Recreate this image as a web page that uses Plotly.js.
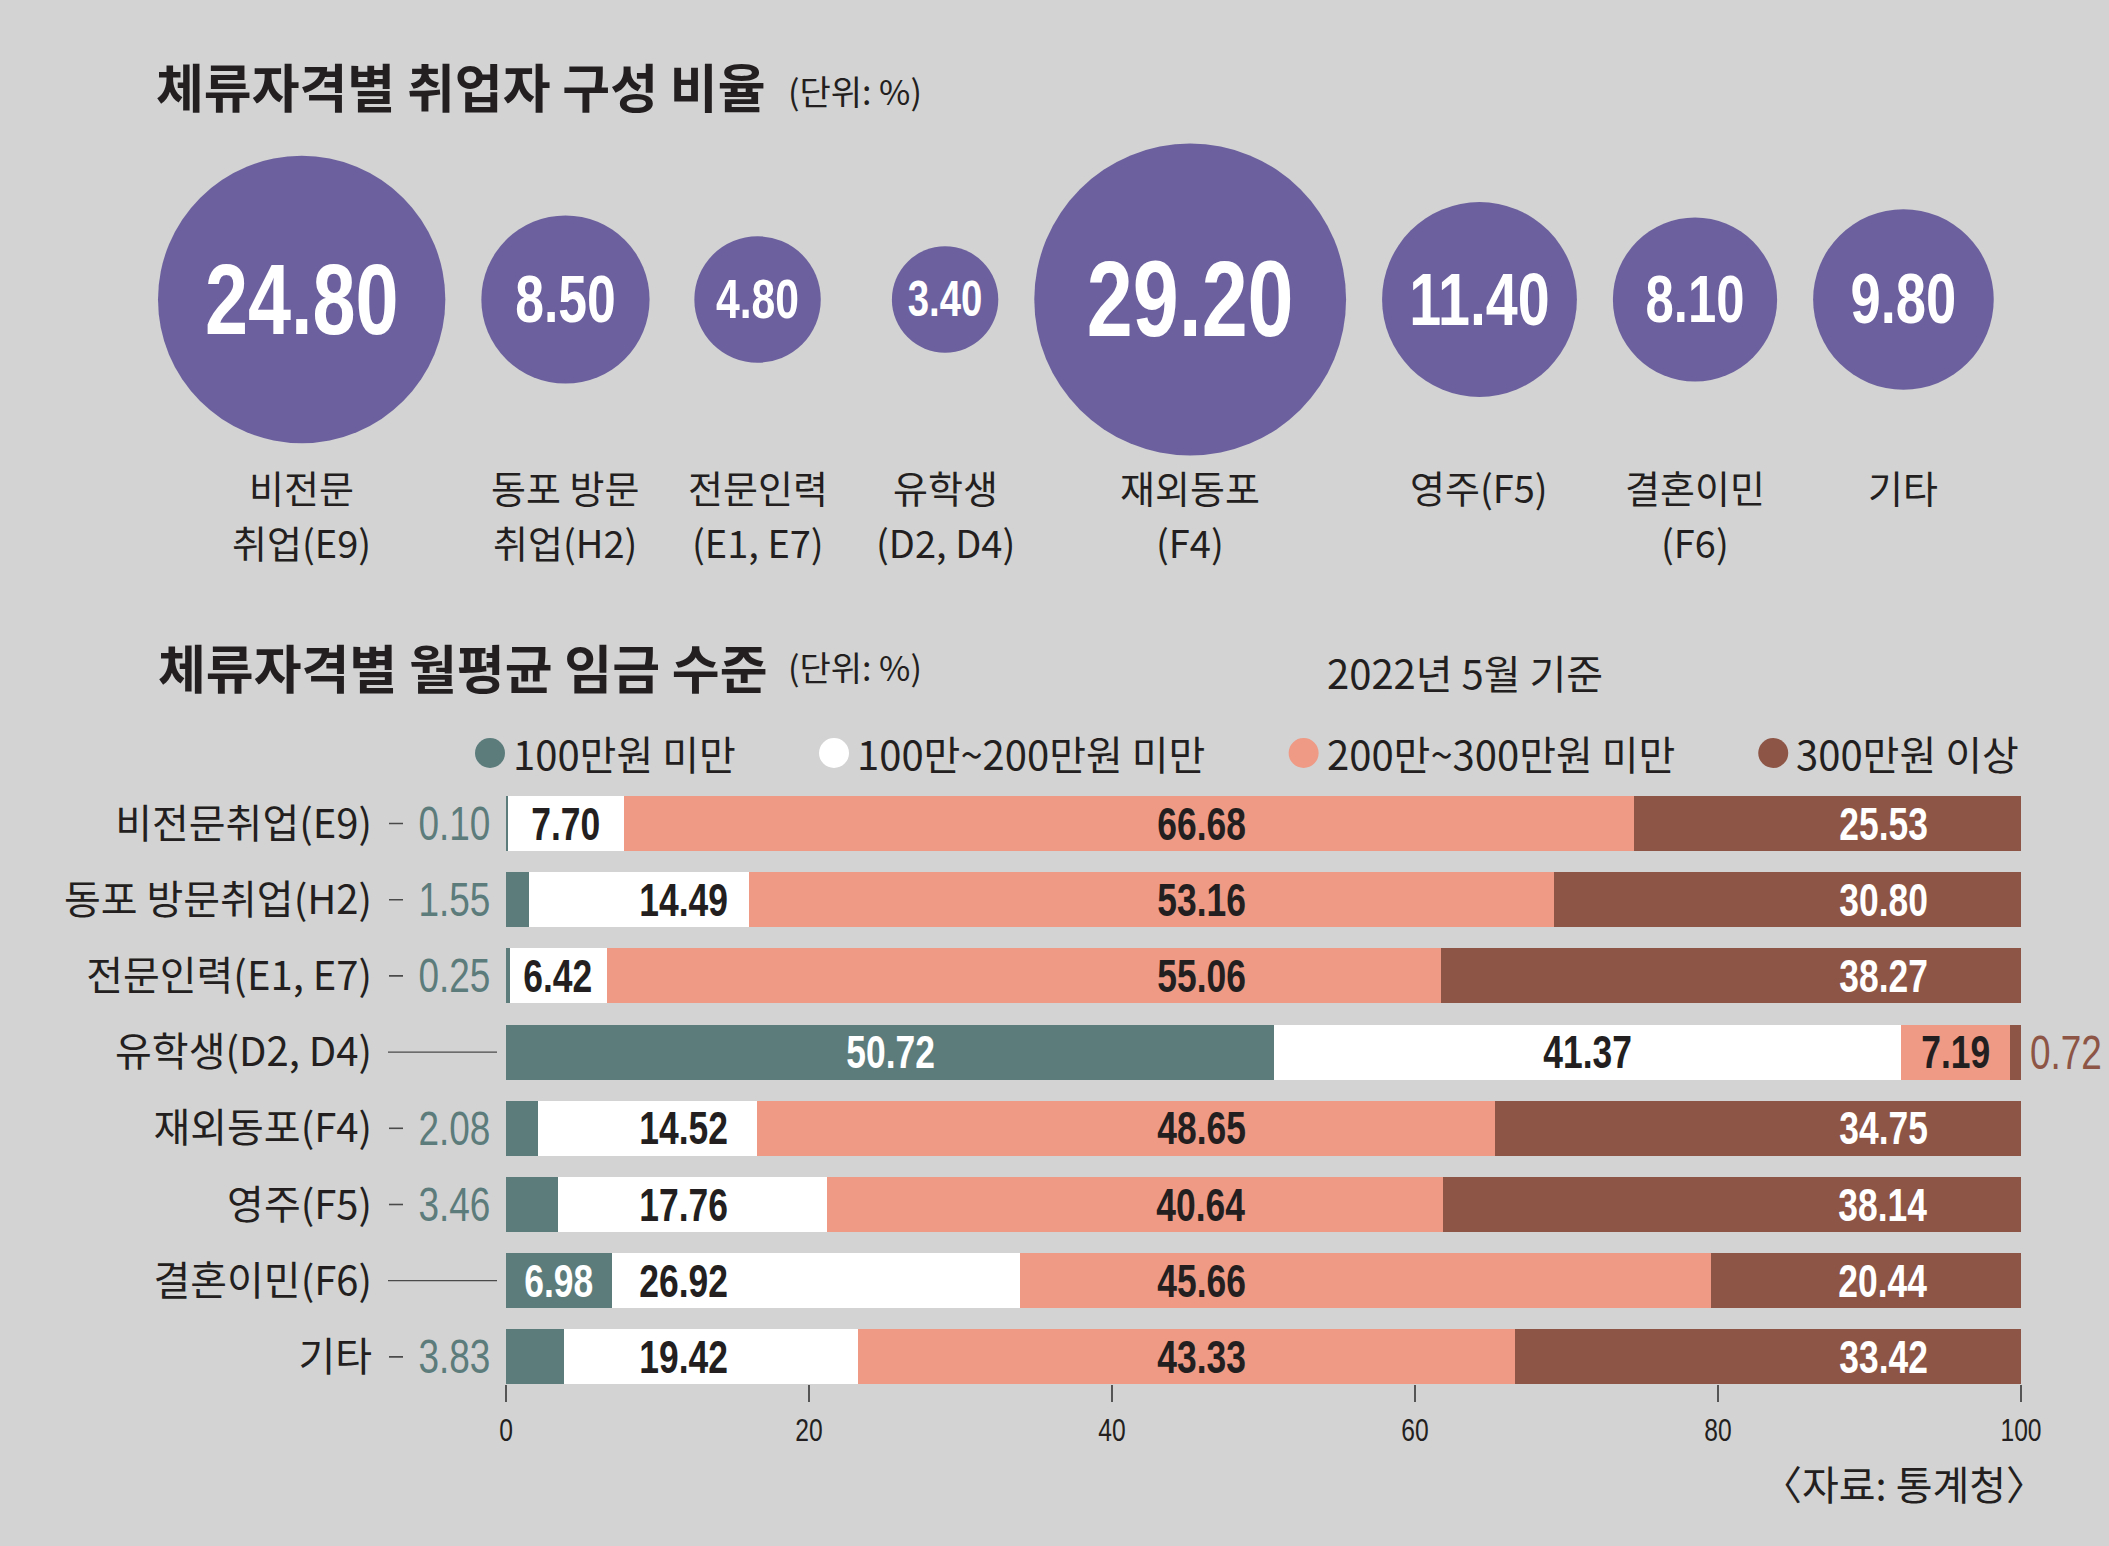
<!DOCTYPE html>
<html>
<head>
<meta charset="utf-8">
<script src="https://cdn.plot.ly/plotly-3.0.1.min.js"></script>
<style>
  html, body { margin: 0; padding: 0; background: #d3d3d3; }
  #chart { width: 2109px; height: 1546px; }
</style>
</head>
<body>
<div id="chart"></div>
<script>
// ---------------- data ----------------
const shareTitle = '체류자격별 취업자 구성 비율';
const wageTitle = '체류자격별 월평균 임금 수준';
const unitLabel = '(단위: %)';
const baseDate = '2022년 5월 기준';
const sourceNote = '〈자료: 통계청〉';

const shareCategories = ['비전문<br>취업(E9)', '동포 방문<br>취업(H2)', '전문인력<br>(E1, E7)', '유학생<br>(D2, D4)',
                         '재외동포<br>(F4)', '영주(F5)', '결혼이민<br>(F6)', '기타'];
const shareValues = [24.80, 8.50, 4.80, 3.40, 29.20, 11.40, 8.10, 9.80];

const wageCategories = ['비전문취업(E9)', '동포 방문취업(H2)', '전문인력(E1, E7)', '유학생(D2, D4)',
                        '재외동포(F4)', '영주(F5)', '결혼이민(F6)', '기타'];
const wageSeriesNames = ['100만원 미만', '100만~200만원 미만', '200만~300만원 미만', '300만원 이상'];
const under100     = [0.10, 1.55, 0.25, 50.72, 2.08, 3.46, 6.98, 3.83];
const from100to200 = [7.70, 14.49, 6.42, 41.37, 14.52, 17.76, 26.92, 19.42];
const from200to300 = [66.68, 53.16, 55.06, 7.19, 48.65, 40.64, 45.66, 43.33];
const over300      = [25.53, 30.80, 38.27, 0.72, 34.75, 38.14, 20.44, 33.42];
const wageTicks = [0, 20, 40, 60, 80, 100];

// ---------------- style / layout constants ----------------
const W = 2109, H = 1546;
const BG = '#d3d3d3', INK = '#231f20', PURPLE = '#6c619e';
const SERIES_COLORS = ['#5c7c7c', '#ffffff', '#ee9a85', '#8d5545'];
const LABEL_COLORS = ['#ffffff', INK, INK, '#ffffff'];
const KR = "'Noto Sans CJK KR', 'Noto Sans', sans-serif";
const NARROW = "'Liberation Sans', Arial, sans-serif";   // horizontally condensed after drawing
const NARROW_SCALE = 0.77;
const BUBBLE_TEXT_DROP = 0.09;   // em, optical vertical centring of numbers in bubbles

const ctx = document.createElement('canvas').getContext('2d');
function textWidth(str, size, family, weight) {
  ctx.font = (weight || 'normal') + ' ' + size + 'px ' + family;
  return ctx.measureText(str).width;
}
const px = x => x / W;
const py = y => 1 - y / H;

// bubbles
const BUBBLE_K = 57.7;                      // diameter in px per sqrt(value)
const sizeref = 2 / (BUBBLE_K * BUBBLE_K);
const radius = v => Math.sqrt(v / (2 * sizeref));
const BUBBLE_LEFT = 158, BUBBLE_GAP = 36, LABEL_GAP = 48, BUBBLE_CY = 299.5;
const LABEL_LINE1 = 486, LABEL_STEP = 55, LABEL_FONT = 38;

const radii = shareValues.map(radius);
const halfLab = shareCategories.map(c => Math.max(...c.split('<br>').map(s => textWidth(s, LABEL_FONT, KR))) / 2);
const bubbleX = [];
radii.forEach((r, i) => {
  if (i === 0) bubbleX.push(BUBBLE_LEFT + r);
  else bubbleX.push(bubbleX[i - 1] + Math.max(radii[i - 1] + r + BUBBLE_GAP, halfLab[i - 1] + halfLab[i] + LABEL_GAP));
});

// bars
const BAR_ZERO_PX = 506, BAR_FULL_PX = 2021;
const ROW0_CY = 823.5, ROW_STEP = 76.2, BAR_THICK = 0.72, PLOT_TOP_PX = 770;
const ppu = (BAR_FULL_PX - BAR_ZERO_PX) / 100;
const xRange2 = [-BAR_ZERO_PX / ppu, (W - BAR_ZERO_PX) / ppu];
const nRows = wageCategories.length;
const yBottomIdx = (nRows - 1) + BAR_THICK / 2;
const yTopIdx = (PLOT_TOP_PX - ROW0_CY) / ROW_STEP;
const yBottomPx = ROW0_CY + yBottomIdx * ROW_STEP;

const LABEL_COLS = [null, 11.7, 45.9, 90.9];   // preferred label columns per series (axis units)
const BAR_LABEL_SIZE = 46, SIDE_LABEL_SIZE = 48, PAD = 0.3;

const wageSeries = [under100, from100to200, from200to300, over300];

const traces = [];
// bubble trace
traces.push({
  type: 'scatter', mode: 'markers+text', xaxis: 'x', yaxis: 'y',
  x: bubbleX, y: shareValues.map(() => 0),
  text: shareValues.map(v => v.toFixed(2)),
  textposition: 'middle center',
  textfont: { family: NARROW, size: radii.map(r => 20 + 0.56 * r), color: '#ffffff', weight: 'bold' },
  marker: { size: shareValues, sizemode: 'area', sizeref: sizeref, color: PURPLE, line: { width: 0 }, opacity: 1 },
  cliponaxis: false, hoverinfo: 'skip', showlegend: false
});
// stacked bars
wageSeries.forEach((vals, s) => {
  traces.push({
    type: 'bar', orientation: 'h', xaxis: 'x2', yaxis: 'y2',
    y: wageCategories, x: vals, name: wageSeriesNames[s],
    marker: { color: SERIES_COLORS[s], line: { width: 0 } },
    hoverinfo: 'skip', showlegend: false
  });
});

const annotations = [];
const shapes = [];

// titles and notes
annotations.push({ xref: 'paper', yref: 'paper', x: px(156), y: py(666), xanchor: 'left', yanchor: 'middle',
  text: '<b>' + wageTitle + '</b>', showarrow: false, font: { family: KR, size: 52, color: INK } });
[90, 666].forEach(y => {
  annotations.push({ xref: 'paper', yref: 'paper', x: px(786), y: py(y), xanchor: 'left', yanchor: 'middle',
    text: unitLabel, showarrow: false, font: { family: KR, size: 34, color: INK } });
});
annotations.push({ xref: 'paper', yref: 'paper', x: px(1325), y: py(672), xanchor: 'left', yanchor: 'middle',
  text: baseDate, showarrow: false, font: { family: KR, size: 40, color: INK } });
annotations.push({ xref: 'paper', yref: 'paper', x: px(2048), y: py(1483), xanchor: 'right', yanchor: 'middle',
  text: sourceNote, showarrow: false, font: { family: KR, size: 40, color: INK } });

// bubble labels (one annotation per line)
shareCategories.forEach((c, i) => {
  c.split('<br>').forEach((line, k) => {
    annotations.push({ xref: 'x', yref: 'y', x: bubbleX[i], y: BUBBLE_CY - (LABEL_LINE1 + k * LABEL_STEP),
      xanchor: 'center', yanchor: 'middle', align: 'center', text: line, showarrow: false,
      font: { family: KR, size: LABEL_FONT, color: INK } });
  });
});

// bar labels
wageCategories.forEach((cat, i) => {
  let start = 0;
  let tealOutside = false;
  wageSeries.forEach((vals, s) => {
    const v = vals[i], a = start, b = start + v;
    start = b;
    const txt = v.toFixed(2);
    const w = textWidth(txt, BAR_LABEL_SIZE, NARROW, 'bold') * NARROW_SCALE / ppu;
    const col = LABEL_COLS[s];
    const base = { xref: 'x2', yref: 'y2', y: cat, yanchor: 'middle', showarrow: false, text: txt };
    const inside = { xanchor: 'center', align: 'center',
      font: { family: NARROW, size: BAR_LABEL_SIZE, color: LABEL_COLORS[s], weight: 'bold' } };
    if (col !== null && col - w / 2 >= a + PAD && col + w / 2 <= b - PAD) {
      annotations.push(Object.assign(base, inside, { x: col }));
    } else if (w + 2 * PAD <= v || (s > 0 && s < wageSeries.length - 1)) {
      annotations.push(Object.assign(base, inside, { x: (a + b) / 2 }));
    } else if (s === 0) {
      tealOutside = true;
      annotations.push(Object.assign(base, { x: 0, xanchor: 'right', align: 'right', xshift: -14,
        font: { family: NARROW, size: SIDE_LABEL_SIZE, color: SERIES_COLORS[s] } }));
    } else {
      annotations.push(Object.assign(base, { x: b, xanchor: 'left', align: 'left', xshift: 7,
        font: { family: NARROW, size: SIDE_LABEL_SIZE, color: SERIES_COLORS[s] } }));
    }
  });
  shapes.push({
    type: 'line', xref: 'x2', yref: 'y2', xsizemode: 'pixel', xanchor: 0,
    x0: tealOutside ? -117 : -118, x1: tealOutside ? -103 : -9, y0: cat, y1: cat,
    line: { color: '#4a4a4a', width: tealOutside ? 1.6 : 1.2 }
  });
});

// custom legend
const LEG_CY = 753, LEG_LEFT = 475, LEG_RIGHT = 2017, LEG_DOT = 30, LEG_TEXT_GAP = 6, LEG_SIZE = 40;
const legW = wageSeriesNames.map(n => textWidth(n, LEG_SIZE, KR));
const legTotal = legW.reduce((acc, w) => acc + LEG_DOT + LEG_TEXT_GAP + w, 0);
const legGap = (LEG_RIGHT - LEG_LEFT - legTotal) / (wageSeriesNames.length - 1);
let lx = LEG_LEFT;
wageSeriesNames.forEach((n, s) => {
  shapes.push({ type: 'circle', xref: 'paper', yref: 'paper',
    x0: px(lx), x1: px(lx + LEG_DOT), y0: py(LEG_CY + LEG_DOT / 2), y1: py(LEG_CY - LEG_DOT / 2),
    fillcolor: SERIES_COLORS[s], line: { width: 0 } });
  annotations.push({ xref: 'paper', yref: 'paper', x: px(lx + LEG_DOT + LEG_TEXT_GAP), y: py(LEG_CY),
    xanchor: 'left', yanchor: 'middle', text: n, showarrow: false, font: { family: KR, size: LEG_SIZE, color: INK } });
  lx += LEG_DOT + LEG_TEXT_GAP + legW[s] + legGap;
});

const layout = {
  width: W, height: H,
  margin: { l: 0, r: 0, t: 0, b: 0, pad: 0 },
  paper_bgcolor: BG, plot_bgcolor: 'rgba(0,0,0,0)',
  font: { family: KR, color: INK },
  title: { text: '<b>' + shareTitle + '</b>', xref: 'paper', yref: 'paper', x: px(156), xanchor: 'left',
           y: py(90), yanchor: 'middle', font: { family: KR, size: 52, color: INK } },
  showlegend: false,
  barmode: 'stack', bargap: 1 - BAR_THICK,
  xaxis: { domain: [0, 1], range: [0, W], visible: false, fixedrange: true },
  yaxis: { domain: [0, 1], range: [-(H - BUBBLE_CY), BUBBLE_CY], visible: false, fixedrange: true },
  xaxis2: { domain: [0, 1], anchor: 'y2', range: xRange2, tickvals: wageTicks, ticktext: wageTicks.map(String),
            ticks: 'outside', ticklen: 17, tickwidth: 1.5, tickcolor: '#555555', ticklabelstandoff: 0,
            tickfont: { family: NARROW, size: 32, color: INK },
            showgrid: false, zeroline: false, showline: false, fixedrange: true },
  yaxis2: { domain: [1 - yBottomPx / H, 1 - PLOT_TOP_PX / H], anchor: 'free', position: BAR_ZERO_PX / W,
            type: 'category', categoryorder: 'array', categoryarray: wageCategories,
            range: [yBottomIdx, yTopIdx], ticks: '', ticklabelstandoff: 134,
            tickfont: { family: KR, size: 40, color: INK },
            showgrid: false, zeroline: false, showline: false, fixedrange: true },
  annotations: annotations,
  shapes: shapes
};

Plotly.newPlot('chart', traces, layout, { staticPlot: true, displayModeBar: false }).then(gd => {
  // condense the numeric texts horizontally (narrow figure style), keeping each anchor point fixed
  gd.querySelectorAll('text').forEach(t => {
    const ff = t.style.fontFamily || '';
    if (ff.indexOf('Liberation Sans') < 0) return;
    const x = parseFloat(t.getAttribute('x')) || 0;
    let dy = 0;
    if (t.parentNode && t.parentNode.classList && t.parentNode.classList.contains('textpoint')) {
      dy = BUBBLE_TEXT_DROP * (parseFloat(t.style.fontSize) || 0);
    }
    const tr = t.getAttribute('transform') || '';
    t.setAttribute('transform', tr + ' translate(' + x + ',' + dy + ') scale(' + NARROW_SCALE + ',1) translate(' + (-x) + ',0)');
  });
});
</script>
</body>
</html>
